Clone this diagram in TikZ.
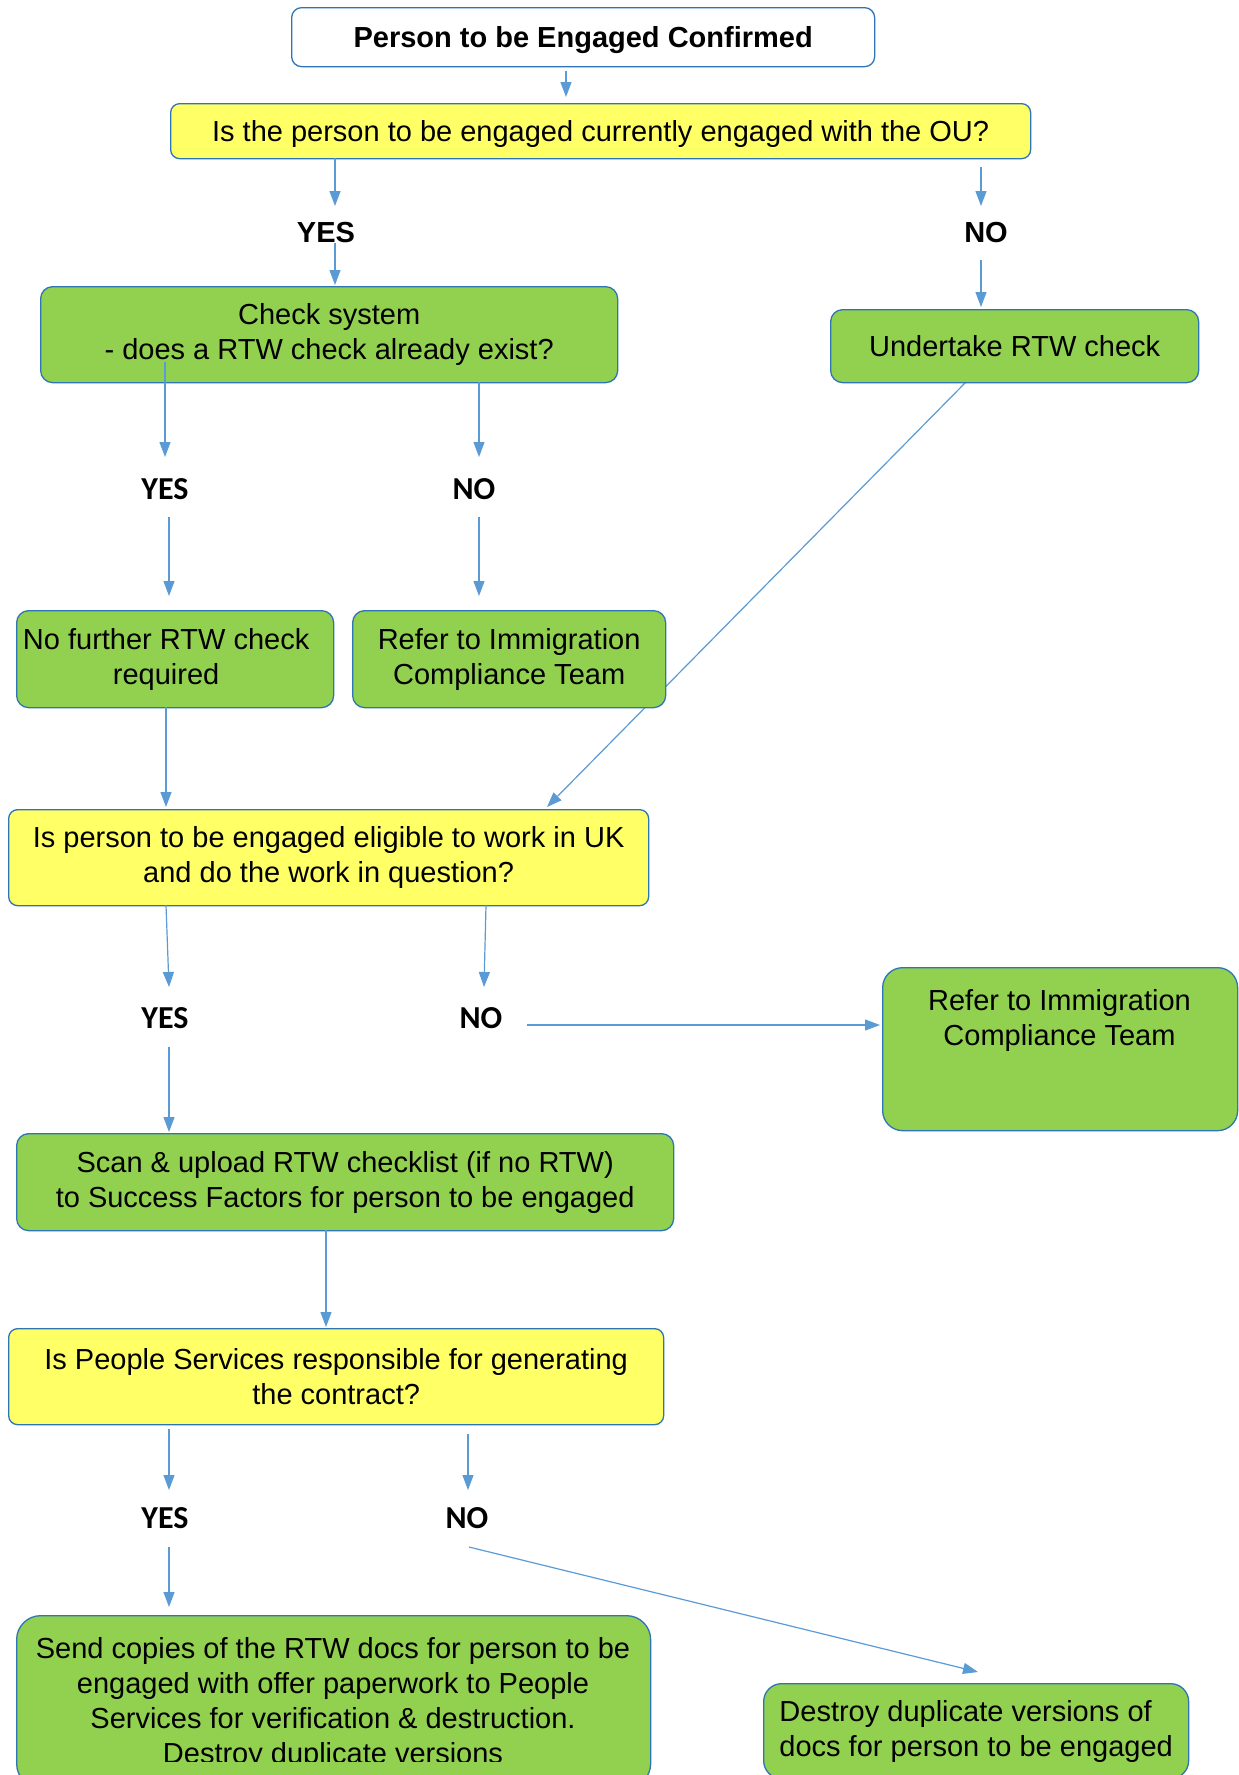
\documentclass[tikz,border=0pt]{standalone}
\usepackage{fontspec}
\setmainfont{Liberation Sans}
\newfontfamily\carlito{Carlito}
\usetikzlibrary{arrows.meta}
\definecolor{gfill}{HTML}{92D050}
\definecolor{yfill}{HTML}{FFFF66}
\definecolor{bord}{HTML}{2E75B6}
\definecolor{arrc}{HTML}{5B9BD5}
\begin{document}
\begin{tikzpicture}[x=1pt,y=-1pt,
  box/.style={draw=bord, line width=1.3pt, rounded corners=12pt, anchor=north west, align=center,
              font=\fontsize{29}{35}\selectfont, inner sep=2pt},
  gbox/.style={box, fill=gfill},
  ybox/.style={box, fill=yfill, rounded corners=9pt},
  btext/.style={font=\fontsize{29}{35}\selectfont, align=center, inner sep=0pt},
  arr/.style={draw=arrc, line width=1.2pt, -{Triangle[length=15pt,width=11pt]}},
  lblA/.style={font=\fontsize{29}{35}\selectfont\bfseries, inner sep=0pt},
  lblB/.style={font=\carlito\fontsize{32}{38}\selectfont\bfseries, inner sep=0pt}]
\clip (0,0) rectangle (1239,1775);
\fill[white] (0,0) rectangle (1239,1775);

% coordinates for connector ends
\path (566,71) coordinate (c1a) (566,97) coordinate (c1b)
      (335,158) coordinate (c2a) (335,206) coordinate (c2b)
      (335,243) coordinate (c3a) (335,285) coordinate (c3b)
      (981,167) coordinate (c4a) (981,206) coordinate (c4b)
      (981,260) coordinate (c5a) (981,307) coordinate (c5b)
      (165,362) coordinate (c6a) (165,457) coordinate (c6b)
      (479,382) coordinate (c7a) (479,457) coordinate (c7b)
      (169,517) coordinate (c8a) (169,596) coordinate (c8b)
      (479,517) coordinate (c9a) (479,596) coordinate (c9b)
      (166,707) coordinate (c10a) (166,807) coordinate (c10b)
      (966,382) coordinate (c11a) (547,807) coordinate (c11b)
      (166,905) coordinate (c12a) (169,987) coordinate (c12b)
      (486,905) coordinate (c13a) (484,987) coordinate (c13b)
      (527,1025) coordinate (c14a) (880,1025) coordinate (c14b)
      (169,1047) coordinate (c15a) (169,1132) coordinate (c15b)
      (326,1230) coordinate (c16a) (326,1327) coordinate (c16b)
      (169,1429) coordinate (c17a) (169,1490) coordinate (c17b)
      (468,1434) coordinate (c18a) (468,1490) coordinate (c18b)
      (169,1547) coordinate (c19a) (169,1607) coordinate (c19b)
      (469,1547) coordinate (c20a) (978,1672) coordinate (c20b);

% diagonal line that passes beneath the first "Refer" box
\draw[arr] (c11a) -- (c11b);

% boxes
\node[box, fill=white, minimum width=583pt, minimum height=59pt, rounded corners=10pt,
      text height=27pt, text depth=6pt,
      font=\fontsize{29}{35}\selectfont\bfseries] (start) at (291,7) {Person to be Engaged Confirmed};
\node[ybox, minimum width=860pt, minimum height=55pt, text height=26pt, text depth=6pt] (q1) at (170,103)
      {Is the person to be engaged currently engaged with the OU?};
\node[gbox, minimum width=577pt, minimum height=96pt] (check) at (40,286)
      {Check system\\- does a RTW check already exist?};
\node[gbox, minimum width=368pt, minimum height=73pt] (rtw) at (830,309) {Undertake RTW check};
\node[gbox, minimum width=317pt, minimum height=97pt] (nofurther) at (16,610)
      {No further RTW check\hspace*{18pt}\\required\hspace*{18pt}};
\node[gbox, minimum width=313pt, minimum height=97pt] (refer1) at (352,610)
      {Refer to Immigration\\Compliance Team};
\node[ybox, minimum width=640pt, minimum height=96pt] (q2) at (8,809)
      {Is person to be engaged eligible to work in UK\\and do the work in question?};
\node[gbox, minimum width=355pt, minimum height=163pt, rounded corners=20pt] (refer2) at (882,967) {};
\node[btext, anchor=north] (refer2t) at (1059.5,989) {Refer to Immigration\\Compliance Team};
\node[gbox, minimum width=657pt, minimum height=97pt] (scan) at (16,1133)
      {Scan \& upload RTW checklist (if no RTW)\\to Success Factors for person to be engaged};
\node[ybox, minimum width=655pt, minimum height=96pt] (q3) at (8,1328)
      {Is People Services responsible for generating\\the contract?};
\node[gbox, minimum width=634pt, minimum height=172pt, rounded corners=24pt] (send) at (16,1615) {};
\begin{scope}
  \clip (0,1600) rectangle (1239,1761);
  \node[btext, anchor=north] (sendt) at (333,1637)
      {Send copies of the RTW docs for person to be\\engaged with offer paperwork to People\\Services for verification \& destruction.\\Destroy duplicate versions};
\end{scope}
\node[gbox, align=left, minimum width=425pt, minimum height=95pt, rounded corners=18pt] (destroy) at (763,1683)
      {Destroy duplicate versions of\\docs for person to be engaged};

% labels
\node[lblA] (yes1) at (326,233) {YES};
\node[lblA] (no1) at (986,233) {NO};
\node[lblB] (yes2) at (165,489) {YES};
\node[lblB] (no2) at (474,489) {NO};
\node[lblB] (yes3) at (165,1018) {YES};
\node[lblB] (no3) at (481,1018) {NO};
\node[lblB] (yes4) at (165,1518) {YES};
\node[lblB] (no4) at (467,1518) {NO};

% connectors
\draw[arr] (c1a) -- (c1b);
\draw[arr] (c2a) -- (c2b);
\draw[arr] (c3a) -- (c3b);
\draw[arr] (c4a) -- (c4b);
\draw[arr] (c5a) -- (c5b);
\draw[arr] (c6a) -- (c6b);
\draw[arr] (c7a) -- (c7b);
\draw[arr] (c8a) -- (c8b);
\draw[arr] (c9a) -- (c9b);
\draw[arr] (c10a) -- (c10b);
\draw[arr] (c12a) -- (c12b);
\draw[arr] (c13a) -- (c13b);
\draw[arr] (c14a) -- (c14b);
\draw[arr] (c15a) -- (c15b);
\draw[arr] (c16a) -- (c16b);
\draw[arr] (c17a) -- (c17b);
\draw[arr] (c18a) -- (c18b);
\draw[arr] (c19a) -- (c19b);
\draw[arr] (c20a) -- (c20b);
\end{tikzpicture}
\end{document}
